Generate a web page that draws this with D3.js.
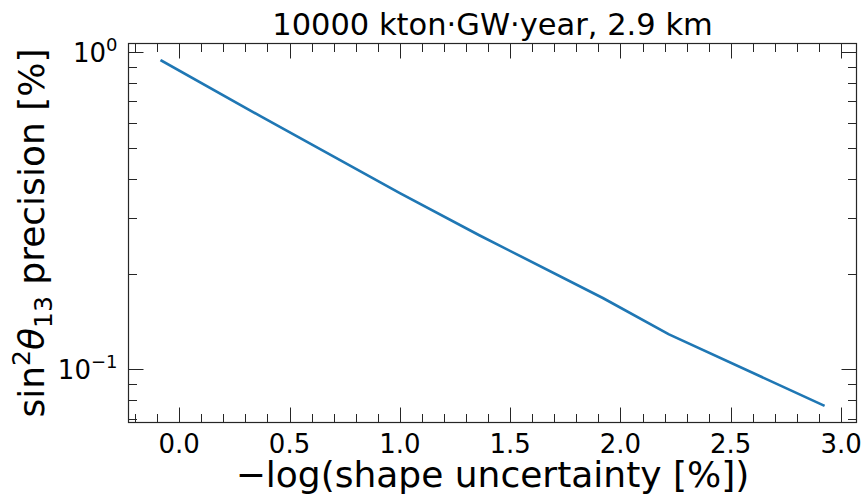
<!DOCTYPE html>
<html>
<head>
<meta charset="utf-8">
<script src="https://cdn.jsdelivr.net/npm/d3@7"></script>
<style>
    body { margin: 0; background: #fff; }
    svg { display: block; font-family: "DejaVu Sans", sans-serif; }
</style>
</head>
<body>
<div id="grafica"></div>
<script>
"use strict";

// valores
const xValores = [-0.08, 0.37, 1.0, 1.36, 1.92, 2.22, 2.92];
const yValores = [0.941, 0.628, 0.360, 0.265, 0.168, 0.129, 0.0771];
const xTicks = [0.0, 0.5, 1.0, 1.5, 2.0, 2.5, 3.0];
const yTicks = [0.1, 1];
const yExponentes = ["\u22121", "0"];
const titulo = "10000 kton\u00b7GW\u00b7year, 2.9 km";
const xEtiqueta = "\u2212log(shape uncertainty [%])";

const width = 866, height = 498;
const margin = { top: 43.5, bottom: 75.5, left: 128.5, right: 9.5 };
const color = "#1f77b4";
const ejeColor = "#262626";

let svg = d3.select("#grafica").append("svg")
    .attr("width", width)
    .attr("height", height);

// margenes del 5% como matplotlib
let xExt = d3.extent(xValores);
let xPad = (xExt[1] - xExt[0]) * 0.05;
let yExt = d3.extent(yValores).map(Math.log10);
let yPad = (yExt[1] - yExt[0]) * 0.05;

let x = d3.scaleLinear()
    .domain([xExt[0] - xPad, xExt[1] + xPad])
    .range([margin.left, width - margin.right]);
let y = d3.scaleLog()
    .domain([Math.pow(10, yExt[0] - yPad), Math.pow(10, yExt[1] + yPad)])
    .range([height - margin.bottom, margin.top]);

let x0 = margin.left, x1 = width - margin.right;
let y0 = height - margin.bottom, y1 = margin.top;

// ticks menores
let xMenores = d3.range(-2, 31).map((d) => d / 10)
    .filter((d) => d >= x.domain()[0] && d <= x.domain()[1] && Math.abs(d * 2 - Math.round(d * 2)) > 1e-6);
let yMenores = [];
[0.01, 0.1, 1].forEach((dec) => {
    for (let k = 2; k <= 9; k++) {
        let v = dec * k;
        if (v >= y.domain()[0] && v <= y.domain()[1]) yMenores.push(v);
    }
});

let ticks = svg.append("g").attr("stroke", ejeColor).attr("stroke-width", 1);

function tickLineas(valores, largo, orient) {
    valores.forEach((v) => {
        if (orient === "x") {
            let px = Math.round(x(v)) + 0.5;
            ticks.append("line").attr("x1", px).attr("x2", px).attr("y1", y0).attr("y2", y0 - largo);
            ticks.append("line").attr("x1", px).attr("x2", px).attr("y1", y1).attr("y2", y1 + largo);
        } else {
            let py = Math.round(y(v)) + 0.5;
            ticks.append("line").attr("y1", py).attr("y2", py).attr("x1", x0).attr("x2", x0 + largo);
            ticks.append("line").attr("y1", py).attr("y2", py).attr("x1", x1).attr("x2", x1 - largo);
        }
    });
}
tickLineas(xTicks, 15, "x");
tickLineas(xMenores, 8.5, "x");
tickLineas(yTicks, 15, "y");
tickLineas(yMenores, 8.5, "y");

// linea de datos
let linea = d3.line()
    .x((d, i) => x(xValores[i]))
    .y((d) => y(d));

svg.append("path")
    .datum(yValores)
    .attr("fill", "none")
    .attr("stroke", color)
    .attr("stroke-width", 2.6)
    .attr("stroke-linecap", "square")
    .attr("stroke-linejoin", "round")
    .attr("d", linea);

// marco
svg.append("rect")
    .attr("x", x0).attr("y", y1)
    .attr("width", x1 - x0).attr("height", y0 - y1)
    .attr("fill", "none")
    .attr("stroke", ejeColor)
    .attr("stroke-width", 1.2);

// etiquetas de ticks
svg.selectAll(".xtick")
    .data(xTicks)
    .enter().append("text")
    .attr("class", "xtick")
    .attr("x", (d) => x(d))
    .attr("y", y0 + 30)
    .attr("text-anchor", "middle")
    .style("font-size", "26px")
    .text((d) => d.toFixed(1));

let ytxt = svg.selectAll(".ytick")
    .data(yTicks)
    .enter().append("text")
    .attr("class", "ytick")
    .attr("x", x0 - 11)
    .attr("y", (d) => y(d) + 9.5)
    .attr("text-anchor", "end")
    .style("font-size", "26px");
ytxt.append("tspan").text("10");
ytxt.append("tspan")
    .attr("dy", -11)
    .style("font-size", "18px")
    .text((d, i) => yExponentes[i]);

// titulo y ejes
svg.append("text")
    .attr("x", (x0 + x1) / 2)
    .attr("y", 35)
    .attr("text-anchor", "middle")
    .style("font-size", "30.5px")
    .text(titulo);

svg.append("text")
    .attr("x", (x0 + x1) / 2)
    .attr("y", 487)
    .attr("text-anchor", "middle")
    .style("font-size", "36px")
    .text(xEtiqueta);

let ylab = svg.append("text")
    .attr("transform", "translate(44," + ((y0 + y1) / 2) + ") rotate(-90)")
    .attr("text-anchor", "middle")
    .style("font-size", "36px");
ylab.append("tspan").text("sin");
ylab.append("tspan").attr("dy", -14).style("font-size", "25px").text("2");
ylab.append("tspan").attr("dy", 14).style("font-style", "italic").text("\u03b8");
ylab.append("tspan").attr("dy", 8).style("font-size", "25px").text("13");
ylab.append("tspan").attr("dy", -8).text(" precision [%]");
</script>
</body>
</html>
